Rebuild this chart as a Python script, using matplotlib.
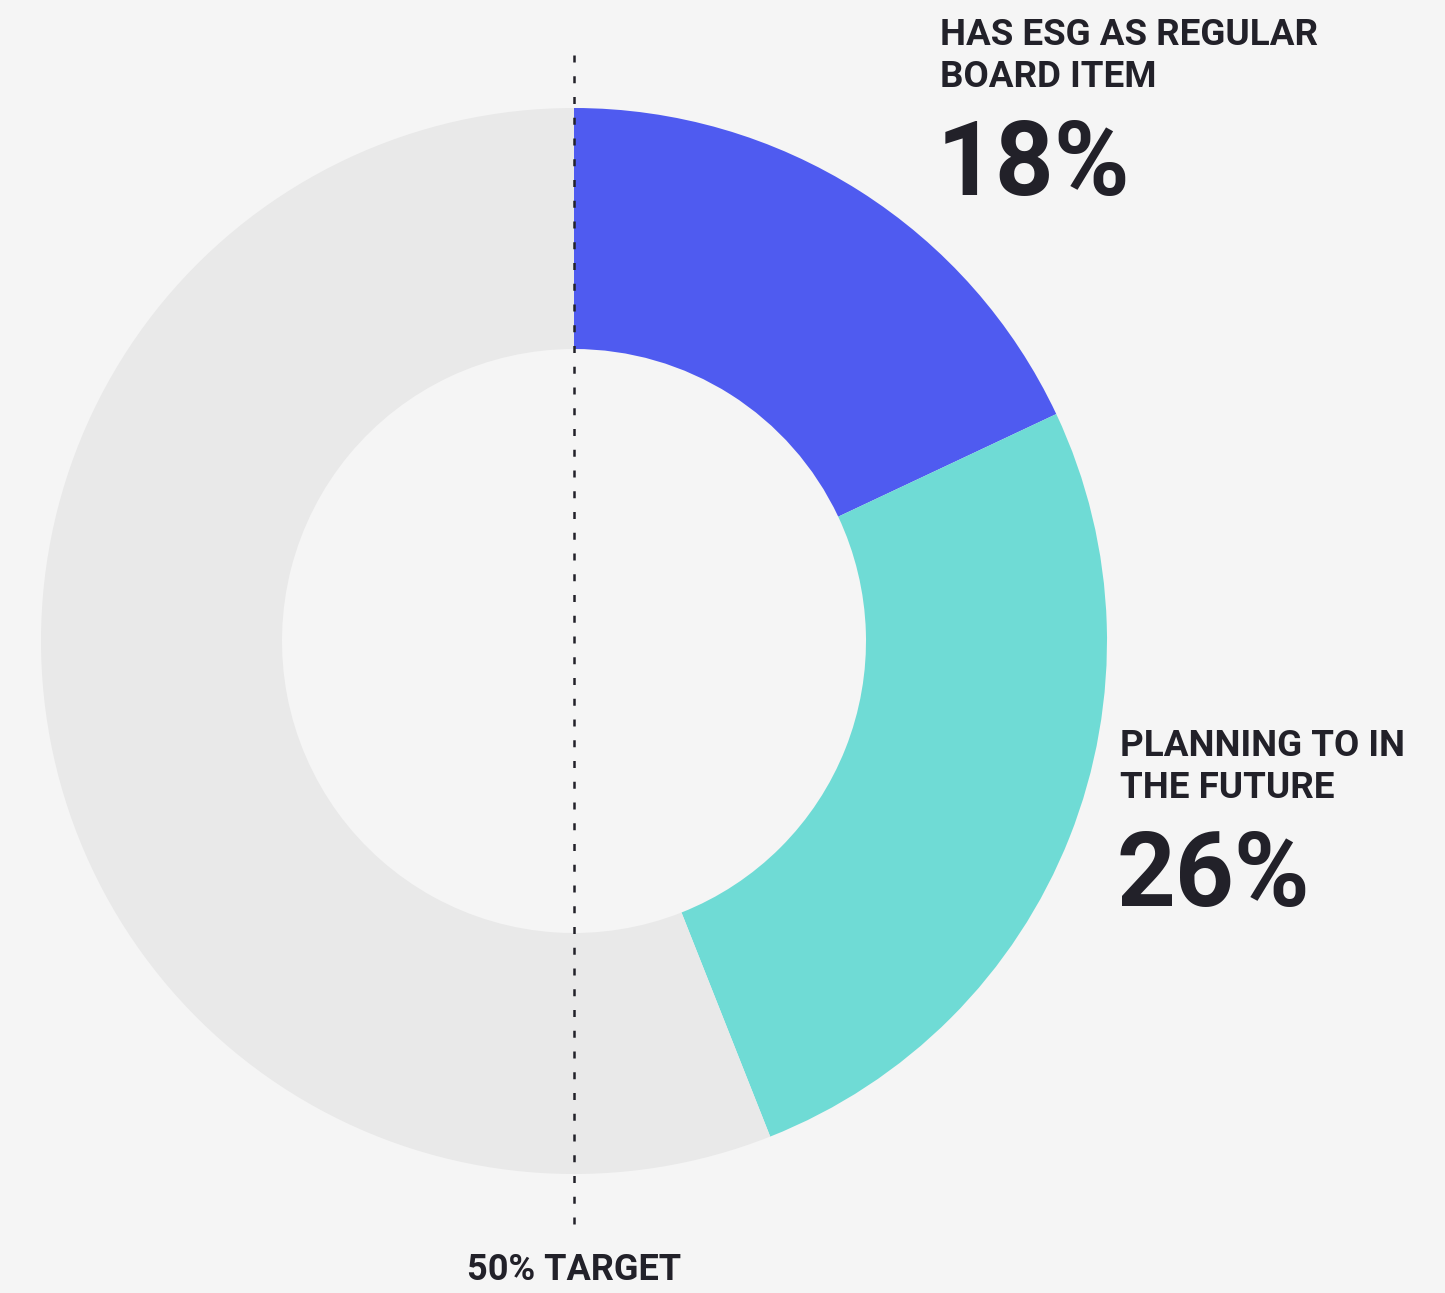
import matplotlib
matplotlib.use('Agg')
import matplotlib.pyplot as plt

# data
labels = ['HAS ESG AS REGULAR\nBOARD ITEM', 'PLANNING TO IN\nTHE FUTURE', 'OTHER']
values = [18, 26, 56]
pct_labels = ['18%', '26%', None]
target = 50

BG = '#f5f5f5'
TXT = '#222129'
colors = ['#4f5bf0', '#6fdbd5', '#e9e9e9']

W, H = 1445, 1293
fig = plt.figure(figsize=(W / 100, H / 100), dpi=100, facecolor=BG)
ax = fig.add_axes([0, 0, 1, 1])
ax.set_facecolor(BG)

cx, cy = 574, H - 641
R_out, R_in = 533, 292

ax.pie(values, colors=colors, startangle=90, counterclock=False,
       center=(cx, cy), radius=R_out, frame=True,
       wedgeprops=dict(width=R_out - R_in, linewidth=0))
ax.set_xlim(0, W)
ax.set_ylim(0, H)
ax.set_aspect('equal')
ax.axis('off')

# target line at 50% -> straight down through the center
ax.plot([cx, cx], [H - 55, H - 1228], color=TXT, lw=1.8,
        linestyle=(0, (2.8, 5.5)), zorder=5)
ax.text(cx, H - 1270, f'{target}% TARGET', ha='center', va='center',
        fontsize=26, fontweight='bold', family='Roboto', color=TXT)

# labels
pos = [(940, H - 17), (1120, H - 728)]
for (x, y), lab, pct in zip(pos, labels[:2], pct_labels[:2]):
    ax.text(x, y, lab, ha='left', va='top', fontsize=26.5, fontweight='bold',
            family='Roboto', color=TXT, linespacing=1.2)
    ax.text(x - 3, y - 100, pct, ha='left', va='top', fontsize=74,
            fontweight='bold', family='Roboto', color=TXT)

plt.savefig('out.png', dpi=100, facecolor=BG)
